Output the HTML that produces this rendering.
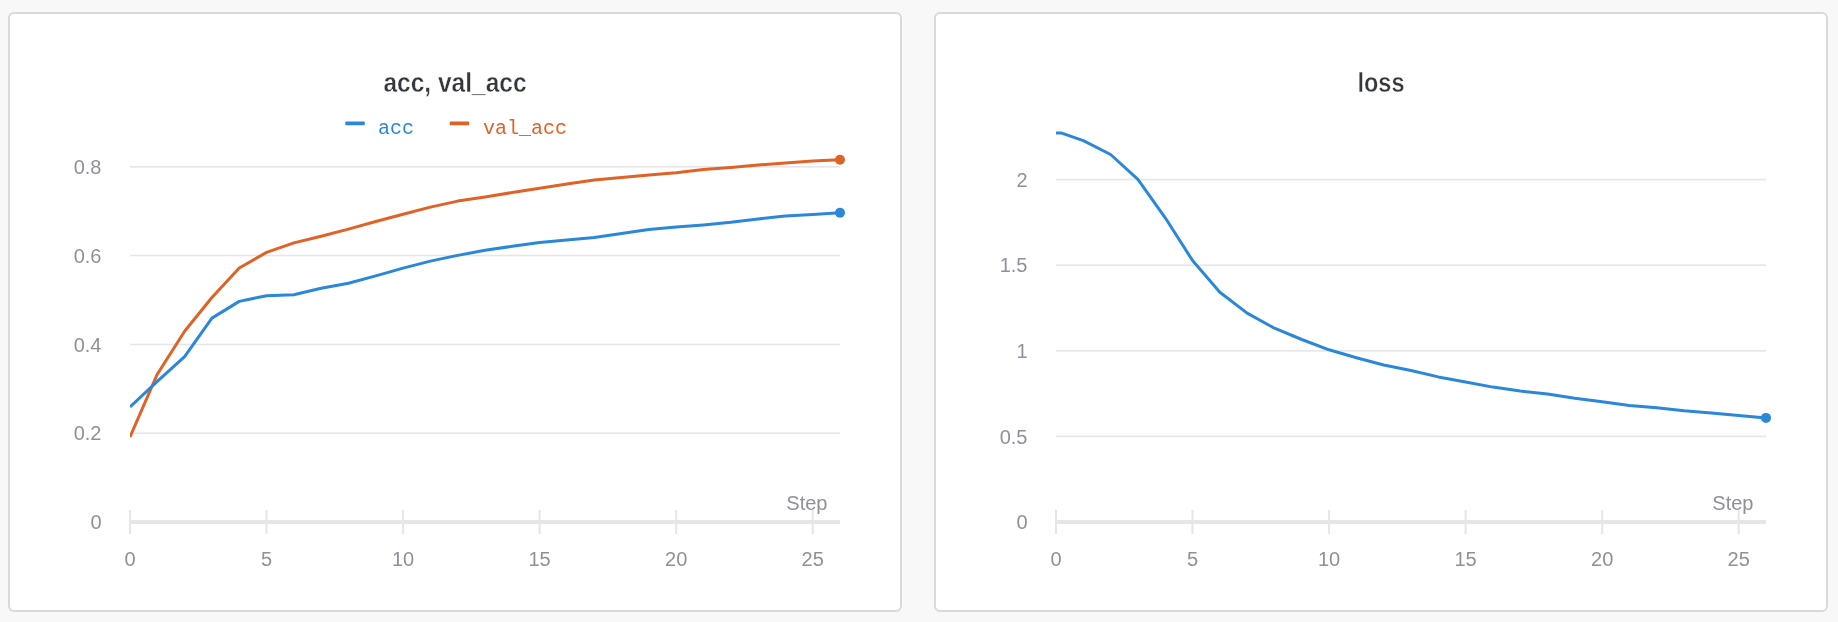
<!DOCTYPE html>
<html><head><meta charset="utf-8"><title>acc, val_acc / loss</title>
<style>
html,body{margin:0;padding:0;background:#f8f8f8;}
body{width:1838px;height:622px;overflow:hidden;position:relative;}
.panel{position:absolute;top:12px;width:890px;height:596px;border:2px solid #d9d9d9;border-radius:6px;background:#fff;}
svg{position:absolute;left:0;top:0;will-change:transform;}
.tk{font-family:"Liberation Sans",sans-serif;font-size:20px;fill:#90909a;}
.ti{font-family:"Liberation Sans",sans-serif;font-size:27px;font-weight:bold;fill:#34383c;stroke:#fff;stroke-width:0.4px;stroke-linejoin:round;}
.lg{font-family:"Liberation Mono",monospace;font-size:20px;}
</style></head>
<body>
<div class="panel" style="left:8px"></div>
<div class="panel" style="left:934px"></div>
<svg width="1838" height="622" viewBox="0 0 1838 622">
<defs><clipPath id="clip0"><rect x="130" y="100" width="760" height="430"/></clipPath></defs>
<rect x="130" y="432.40" width="710" height="1.6" fill="#e6e6e9"/>
<rect x="130" y="343.70" width="710" height="1.6" fill="#e6e6e9"/>
<rect x="130" y="254.70" width="710" height="1.6" fill="#e6e6e9"/>
<rect x="130" y="166.00" width="710" height="1.6" fill="#e6e6e9"/>
<text x="101.5" y="529.2" class="tk" text-anchor="end">0</text>
<text x="101.5" y="440.4" class="tk" text-anchor="end">0.2</text>
<text x="101.5" y="351.7" class="tk" text-anchor="end">0.4</text>
<text x="101.5" y="262.7" class="tk" text-anchor="end">0.6</text>
<text x="101.5" y="174.0" class="tk" text-anchor="end">0.8</text>
<rect x="130" y="520" width="710" height="4" fill="#e6e6e9"/>
<rect x="129.0" y="510" width="2" height="24" fill="#e6e6e9"/>
<text x="130.0" y="566" class="tk" text-anchor="middle">0</text>
<rect x="265.5" y="510" width="2" height="24" fill="#e6e6e9"/>
<text x="266.5" y="566" class="tk" text-anchor="middle">5</text>
<rect x="402.1" y="510" width="2" height="24" fill="#e6e6e9"/>
<text x="403.1" y="566" class="tk" text-anchor="middle">10</text>
<rect x="538.6" y="510" width="2" height="24" fill="#e6e6e9"/>
<text x="539.6" y="566" class="tk" text-anchor="middle">15</text>
<rect x="675.2" y="510" width="2" height="24" fill="#e6e6e9"/>
<text x="676.2" y="566" class="tk" text-anchor="middle">20</text>
<rect x="811.7" y="510" width="2" height="24" fill="#e6e6e9"/>
<text x="812.7" y="566" class="tk" text-anchor="middle">25</text>
<text x="827.5" y="510" class="tk" text-anchor="end">Step</text>
<text transform="translate(455 92) scale(0.908 1)" class="ti" text-anchor="middle">acc, val_acc</text>
<polyline clip-path="url(#clip0)" points="130.00,437.00 157.31,374.20 184.62,331.30 211.92,297.50 239.23,268.00 266.54,252.40 293.85,242.90 321.15,236.20 348.46,229.10 375.77,221.50 403.08,214.20 430.38,207.10 457.69,201.10 485.00,197.10 512.31,192.50 539.62,188.30 566.92,183.90 594.23,180.10 621.54,177.40 648.85,175.00 676.15,172.80 703.46,169.40 730.77,167.50 758.08,165.00 785.38,163.00 812.69,161.00 840.00,159.80" fill="none" stroke="#df6226" stroke-width="3" stroke-linejoin="round" stroke-linecap="butt"/>
<circle cx="840" cy="159.80" r="5" fill="#df6226"/>
<polyline clip-path="url(#clip0)" points="130.00,407.00 157.31,381.40 184.62,356.70 211.92,318.10 239.23,301.40 266.54,295.70 293.85,294.70 321.15,288.30 348.46,283.20 375.77,275.90 403.08,268.10 430.38,261.10 457.69,255.40 485.00,250.30 512.31,246.30 539.62,242.60 566.92,240.00 594.23,237.60 621.54,233.40 648.85,229.50 676.15,226.90 703.46,224.90 730.77,222.30 758.08,219.00 785.38,216.10 812.69,214.50 840.00,212.70" fill="none" stroke="#2b87d8" stroke-width="3" stroke-linejoin="round" stroke-linecap="butt"/>
<circle cx="840" cy="212.70" r="5" fill="#2b87d8"/>
<rect x="345.3" y="121.4" width="19.5" height="3.8" rx="1" fill="#2b87d8"/>
<text x="378.0" y="134" class="lg" fill="#2b87d8">acc</text>
<rect x="449.7" y="121.4" width="19.5" height="3.8" rx="1" fill="#df6226"/>
<text x="483.0" y="134" class="lg" fill="#df6226">val_acc</text>
<defs><clipPath id="clip926"><rect x="1056" y="100" width="760" height="430"/></clipPath></defs>
<rect x="1056" y="435.60" width="710" height="1.6" fill="#e6e6e9"/>
<rect x="1056" y="350.00" width="710" height="1.6" fill="#e6e6e9"/>
<rect x="1056" y="264.40" width="710" height="1.6" fill="#e6e6e9"/>
<rect x="1056" y="178.80" width="710" height="1.6" fill="#e6e6e9"/>
<text x="1027.5" y="529.2" class="tk" text-anchor="end">0</text>
<text x="1027.5" y="443.6" class="tk" text-anchor="end">0.5</text>
<text x="1027.5" y="358.0" class="tk" text-anchor="end">1</text>
<text x="1027.5" y="272.4" class="tk" text-anchor="end">1.5</text>
<text x="1027.5" y="186.8" class="tk" text-anchor="end">2</text>
<rect x="1056" y="520" width="710" height="4" fill="#e6e6e9"/>
<rect x="1055.0" y="510" width="2" height="24" fill="#e6e6e9"/>
<text x="1056.0" y="566" class="tk" text-anchor="middle">0</text>
<rect x="1191.5" y="510" width="2" height="24" fill="#e6e6e9"/>
<text x="1192.5" y="566" class="tk" text-anchor="middle">5</text>
<rect x="1328.1" y="510" width="2" height="24" fill="#e6e6e9"/>
<text x="1329.1" y="566" class="tk" text-anchor="middle">10</text>
<rect x="1464.6" y="510" width="2" height="24" fill="#e6e6e9"/>
<text x="1465.6" y="566" class="tk" text-anchor="middle">15</text>
<rect x="1601.2" y="510" width="2" height="24" fill="#e6e6e9"/>
<text x="1602.2" y="566" class="tk" text-anchor="middle">20</text>
<rect x="1737.7" y="510" width="2" height="24" fill="#e6e6e9"/>
<text x="1738.7" y="566" class="tk" text-anchor="middle">25</text>
<text x="1753.5" y="510" class="tk" text-anchor="end">Step</text>
<text transform="translate(1381 92) scale(0.87 1)" class="ti" text-anchor="middle">loss</text>
<polyline clip-path="url(#clip926)" points="1056.00,132.90 1061.00,132.90 1083.31,140.60 1110.62,154.50 1137.92,179.30 1165.23,217.80 1192.54,260.50 1219.85,292.20 1247.15,313.10 1274.46,328.20 1301.77,339.50 1329.08,349.80 1356.38,357.70 1383.69,365.00 1411.00,370.50 1438.31,376.90 1465.62,381.90 1492.92,387.10 1520.23,391.10 1547.54,394.00 1574.85,398.20 1602.15,401.70 1629.46,405.40 1656.77,407.70 1684.08,410.80 1711.38,413.10 1738.69,415.60 1766.00,417.90" fill="none" stroke="#2b87d8" stroke-width="3" stroke-linejoin="round" stroke-linecap="butt"/>
<circle cx="1766" cy="417.90" r="5" fill="#2b87d8"/>
</svg>
</body></html>
